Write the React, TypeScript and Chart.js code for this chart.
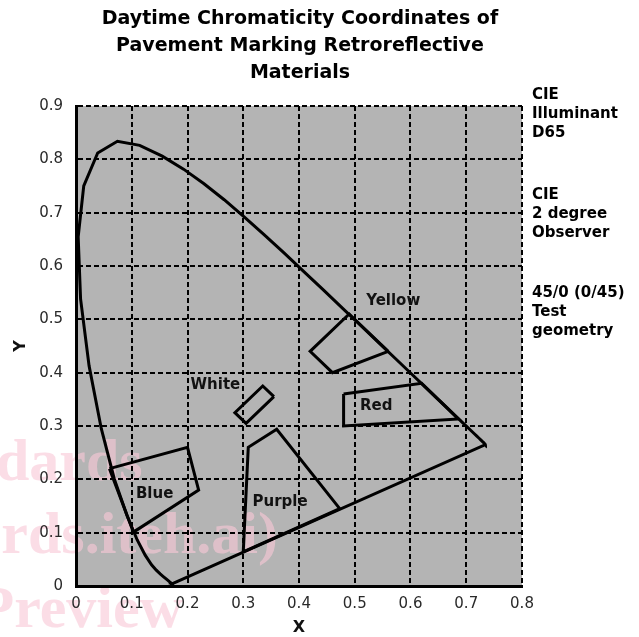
import React, { useEffect, useRef } from "react";
import { Chart, registerables } from "chart.js";
Chart.register(...registerables);

// CIE 1931 2-degree spectral locus (380-700 nm, 5 nm)
const locusX = [0.1741, 0.1740, 0.1738, 0.1736, 0.1733, 0.1730, 0.1726, 0.1721, 0.1714, 0.1703, 0.1689, 0.1669, 0.1644, 0.1611, 0.1566, 0.1510, 0.1440, 0.1355, 0.1241, 0.1096, 0.0913, 0.0687, 0.0454, 0.0235, 0.0082, 0.0039, 0.0139, 0.0389, 0.0743, 0.1142, 0.1547, 0.1929, 0.2296, 0.2658, 0.3016, 0.3373, 0.3731, 0.4087, 0.4441, 0.4788, 0.5125, 0.5448, 0.5752, 0.6029, 0.6270, 0.6482, 0.6658, 0.6801, 0.6915, 0.7006, 0.7079, 0.7140, 0.7190, 0.7230, 0.7260, 0.7283, 0.7300, 0.7311, 0.7320, 0.7327, 0.7334, 0.7340, 0.7344, 0.7346, 0.7347];
const locusY = [0.0050, 0.0050, 0.0049, 0.0049, 0.0048, 0.0048, 0.0048, 0.0048, 0.0051, 0.0058, 0.0069, 0.0086, 0.0109, 0.0138, 0.0177, 0.0227, 0.0297, 0.0399, 0.0578, 0.0868, 0.1327, 0.2007, 0.2950, 0.4127, 0.5384, 0.6548, 0.7502, 0.8120, 0.8338, 0.8262, 0.8059, 0.7816, 0.7543, 0.7243, 0.6923, 0.6589, 0.6245, 0.5896, 0.5547, 0.5202, 0.4866, 0.4544, 0.4242, 0.3965, 0.3725, 0.3514, 0.3340, 0.3197, 0.3083, 0.2993, 0.2920, 0.2859, 0.2809, 0.2770, 0.2740, 0.2717, 0.2700, 0.2689, 0.2680, 0.2673, 0.2666, 0.2660, 0.2656, 0.2654, 0.2653];

const whiteX = [0.355, 0.305, 0.285, 0.335];
const whiteY = [0.355, 0.305, 0.325, 0.375];
const yellowX = [0.560, 0.490, 0.420, 0.460];
const yellowY = [0.440, 0.510, 0.440, 0.400];
const redX = [0.480, 0.620, 0.686, 0.480];
const redY = [0.360, 0.380, 0.313, 0.300];
const blueX = [0.060, 0.200, 0.220, 0.103];
const blueY = [0.220, 0.260, 0.180, 0.101];
const purpleX = [0.300, 0.309, 0.360, 0.473];
const purpleY = [0.064, 0.260, 0.294, 0.145];

const regionNames = ["Yellow", "Red", "White", "Blue", "Purple"];
const labelX = [0.569, 0.5385, 0.250, 0.141, 0.366];
const labelY = [0.535, 0.337, 0.376, 0.173, 0.157];

const xTicks = [0, 0.1, 0.2, 0.3, 0.4, 0.5, 0.6, 0.7, 0.8];
const yTicks = [0, 0.1, 0.2, 0.3, 0.4, 0.5, 0.6, 0.7, 0.8, 0.9];

const titleLines = [
  "Daytime Chromaticity Coordinates of",
  "Pavement Marking Retroreflective",
  "Materials",
];
const noteLines = [
  ["CIE", "Illuminant", "D65"],
  ["CIE", "2 degree", "Observer"],
  ["45/0 (0/45)", "Test", "geometry"],
];
const watermarkLines = ["dards", "rds.iteh.ai)", "Preview"];

function pts(xs: number[], ys: number[], close: boolean) {
  const p = xs.map((x, i) => ({ x, y: ys[i] }));
  if (close) p.push({ ...p[0] });
  return p;
}

const FONT = "'DejaVu Sans', Verdana, sans-serif";

export default function App() {
  const ref = useRef<HTMLCanvasElement | null>(null);
  useEffect(() => {
    if (!ref.current) return;
    const ds = (data: any) => ({
      data,
      showLine: true,
      borderColor: "#000",
      borderWidth: 3,
      pointRadius: 0,
      fill: false,
      tension: 0,
    });
    const bgPlugin = {
      id: "bg",
      beforeDraw(chart: any) {
        const { ctx, chartArea: a } = chart;
        ctx.save();
        ctx.fillStyle = "#b4b4b4";
        ctx.fillRect(a.left, a.top, a.right - a.left, a.bottom - a.top);
        ctx.fillStyle = "rgba(248, 200, 214, 0.62)";
        ctx.font = "bold 60px 'Liberation Serif', serif";
        ctx.textBaseline = "alphabetic";
        ctx.textAlign = "left";
        ctx.fillText(watermarkLines[0], -4, 480);
        ctx.textAlign = "right";
        ctx.fillText(watermarkLines[1], 278, 553);
        ctx.fillText(watermarkLines[2], 183, 627);
        ctx.restore();
      },
    };
    const textPlugin = {
      id: "texts",
      afterDatasetsDraw(chart: any) {
        const { ctx, scales } = chart;
        ctx.save();
        ctx.fillStyle = "#111";
        ctx.textBaseline = "middle";
        ctx.font = `bold 15px ${FONT}`;
        ctx.textAlign = "center";
        regionNames.forEach((n, i) => {
          ctx.fillText(n, scales.x.getPixelForValue(labelX[i]), scales.y.getPixelForValue(labelY[i]));
        });
        ctx.font = `bold 19px ${FONT}`;
        ctx.fillStyle = "#000";
        const tY = [19, 46, 73];
        titleLines.forEach((t, i) => ctx.fillText(t, 300, tY[i]));
        ctx.font = `bold 15px ${FONT}`;
        ctx.textAlign = "left";
        const nY = [95, 195, 293];
        noteLines.forEach((g, gi) => {
          g.forEach((t, li) => ctx.fillText(t, 532, nY[gi] + li * 19));
        });
        ctx.restore();
      },
    };
    const chart = new Chart(ref.current, {
      type: "scatter",
      data: {
        datasets: [
          ds(pts(locusX, locusY, true)),
          ds(pts(yellowX, yellowY, true)),
          ds(pts(redX, redY, true)),
          ds(pts(whiteX, whiteY, true)),
          ds(pts(blueX, blueY, true)),
          ds(pts(purpleX, purpleY, true)),
        ],
      },
      options: {
        animation: false,
        responsive: false,
        layout: { padding: { top: 106, right: 117, left: 0, bottom: 0 } },
        plugins: { legend: { display: false }, tooltip: { enabled: false }, title: { display: false } },
        scales: {
          x: {
            type: "linear",
            min: 0,
            max: 0.8,
            afterFit: (s: any) => { s.height = 51; },
            afterBuildTicks: (s: any) => { s.ticks = xTicks.map((v) => ({ value: v })); },
            ticks: {
              font: { family: FONT, size: 15 },
              color: "#2a2a2a",
              padding: 9,
              callback: (v: any) => (Number(v) === 0 ? "0" : Number(v).toFixed(1)),
            },
            grid: { color: "#000", lineWidth: 2, drawTicks: false },
            border: { display: true, color: "#000", width: 3, dash: [5, 3] },
            title: { display: true, text: "X", font: { family: FONT, size: 16, weight: "bold" }, color: "#111", padding: { top: 0, bottom: 0 } },
          },
          y: {
            type: "linear",
            min: 0,
            max: 0.9,
            afterFit: (s: any) => { s.width = 76; },
            afterBuildTicks: (s: any) => { s.ticks = yTicks.map((v) => ({ value: v })); },
            ticks: {
              font: { family: FONT, size: 15 },
              color: "#2a2a2a",
              padding: 13,
              callback: (v: any) => (Number(v) === 0 ? "0" : Number(v).toFixed(1)),
            },
            grid: { color: "#000", lineWidth: 2, drawTicks: false },
            border: { display: true, color: "#000", width: 3, dash: [5, 3] },
            title: { display: true, text: "Y", font: { family: FONT, size: 16, weight: "bold" }, color: "#111", padding: { top: 11, bottom: 11 } },
          },
        },
      },
      plugins: [bgPlugin, textPlugin],
    } as any);
    return () => chart.destroy();
  }, []);
  return (
    <div style={{ position: "absolute", left: 0, top: 0, width: 639, height: 637 }}>
      <canvas ref={ref} width={639} height={637} style={{ width: 639, height: 637, display: "block" }} />
    </div>
  );
}
